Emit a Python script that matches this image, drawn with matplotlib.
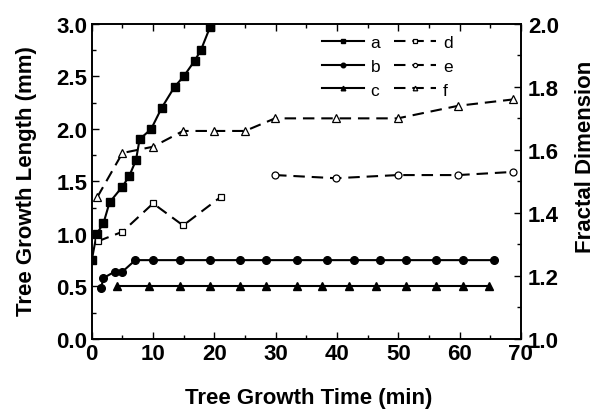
import numpy as np
import matplotlib.pyplot as plt
from matplotlib.ticker import MultipleLocator

plt.rcParams['font.family'] = ['Liberation Sans', 'DejaVu Sans']

# tree growth length (mm), left axis
a_t = [0, 0.8, 1.9, 2.9, 5.0, 6.1, 7.2, 7.8, 9.7, 11.4, 13.5, 15.0, 16.8, 17.8, 19.3]
a_y = [0.75, 1.0, 1.1, 1.3, 1.45, 1.55, 1.7, 1.9, 2.0, 2.2, 2.4, 2.5, 2.65, 2.75, 2.97]
b_t = [1.5, 1.9, 3.75, 5.0, 7.1, 10, 14.4, 19.3, 24.1, 28.5, 33.5, 38.4, 42.8, 47.0, 51.2, 56.2, 60.6, 65.6]
b_y = [0.48, 0.58, 0.64, 0.64, 0.75, 0.75, 0.75, 0.75, 0.75, 0.75, 0.75, 0.75, 0.75, 0.75, 0.75, 0.75, 0.75, 0.75]
c_t = [4.1, 9.3, 14.4, 19.3, 24.1, 28.5, 33.5, 37.6, 41.9, 46.3, 51.2, 56.2, 60.6, 64.8]
c_y = [0.5] * len(c_t)

# fractal dimension, right axis
d_t = [1.0, 5.0, 10.0, 14.9, 21.0]
d_y = [1.31, 1.34, 1.43, 1.36, 1.45]
e_t = [29.9, 39.8, 49.9, 59.8, 68.7]
e_y = [1.52, 1.51, 1.52, 1.52, 1.53]
f_t = [0.9, 5.0, 10.0, 14.9, 19.9, 25.0, 29.9, 39.8, 49.9, 59.8, 68.7]
f_y = [1.45, 1.59, 1.61, 1.66, 1.66, 1.66, 1.70, 1.70, 1.70, 1.74, 1.76]

fig = plt.figure(figsize=(5.96, 4.14), dpi=100)
ax = fig.add_axes([0.154, 0.179, 0.72, 0.761])
ax2 = ax.twinx()

lw = 1.5
dash = (0, (5.5, 3.3))
h = []
h += ax.plot(a_t, a_y, '-', color='k', lw=lw, marker='s', ms=5.5, label='a')
h += ax.plot(b_t, b_y, '-', color='k', lw=lw, marker='o', ms=5.5, label='b')
h += ax.plot(c_t, c_y, '-', color='k', lw=lw, marker='^', ms=5.5, label='c')
h += ax2.plot(d_t, d_y, color='k', lw=lw, ls=dash, marker='s', ms=5, mfc='white', mew=0.9, label='d')
h += ax2.plot(e_t, e_y, color='k', lw=lw, ls=dash, marker='o', ms=5, mfc='white', mew=0.9, label='e')
h += ax2.plot(f_t, f_y, color='k', lw=lw, ls=dash, marker='^', ms=5.5, mfc='white', mew=0.9, label='f')

ax.set_xlim(0, 70)
ax.set_ylim(0, 3.0)
ax2.set_ylim(1.0, 2.0)
ax.xaxis.set_major_locator(MultipleLocator(10))
ax.xaxis.set_minor_locator(MultipleLocator(5))
ax.yaxis.set_major_locator(MultipleLocator(0.5))
ax.yaxis.set_minor_locator(MultipleLocator(0.25))
ax2.yaxis.set_major_locator(MultipleLocator(0.2))
ax2.yaxis.set_minor_locator(MultipleLocator(0.1))
ax.yaxis.set_major_formatter(plt.FormatStrFormatter('%.1f'))
ax2.yaxis.set_major_formatter(plt.FormatStrFormatter('%.1f'))

ax.tick_params(axis='x', which='both', direction='in', top=True, labelsize=16, pad=3)
ax.tick_params(axis='y', which='both', direction='in', right=False, labelsize=16, pad=3)
ax2.tick_params(axis='y', which='both', direction='in', labelsize=16, pad=5)
for a_ in (ax, ax2):
    a_.tick_params(which='major', length=5, width=1)
    a_.tick_params(which='minor', length=3, width=1)
    for lab in a_.get_xticklabels() + a_.get_yticklabels():
        lab.set_fontweight('bold')
    for s in a_.spines.values():
        s.set_linewidth(1.2)

ax.set_xlabel('Tree Growth Time (min)', fontsize=16, fontweight='bold')
ax.set_ylabel('Tree Growth Length (mm)', fontsize=16, fontweight='bold')
ax2.set_ylabel('Fractal Dimension', fontsize=16, fontweight='bold')
ax.xaxis.set_label_coords(0.505, -0.152)
ax.yaxis.set_label_coords(-0.128, 0.505)
ax2.yaxis.set_label_coords(1.126, 0.58)

ax.legend(handles=h, ncol=2, loc='upper left', bbox_to_anchor=(0.5, 1.015),
          frameon=False, fontsize=12.5, handlelength=2.4, markerscale=0.6,
          columnspacing=0.8, handletextpad=0.4, labelspacing=0.5)

fig.savefig('out.png', dpi=100)
